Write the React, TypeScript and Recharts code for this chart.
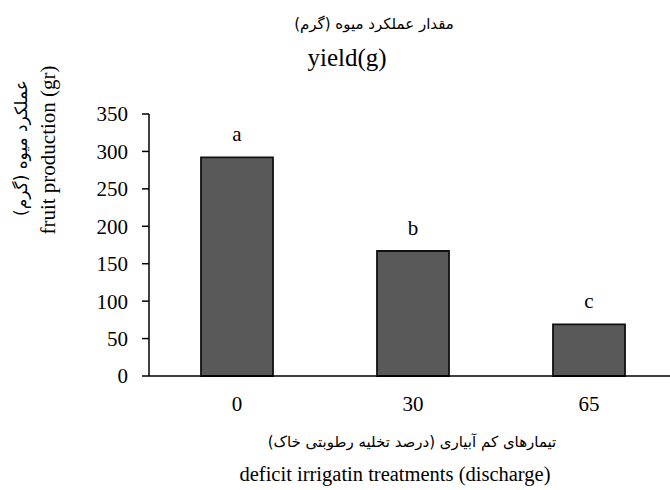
import { BarChart, Bar, XAxis, YAxis, LabelList } from 'recharts';

// treatments (percent soil moisture depletion)
const treatments = ['0', '30', '65'];
const yieldValues = [292, 167, 69];
const groupLetters = ['a', 'b', 'c'];
const yTicks = [0, 50, 100, 150, 200, 250, 300, 350];

const data = treatments.map((t, i) => ({
  treatment: t,
  value: yieldValues[i],
  letter: groupLetters[i],
}));

const LATIN = '"Liberation Serif", "Times New Roman", serif';
const PERSIAN = '"DejaVu Sans", "Noto Sans", sans-serif';

const YLabel = () => (
  <g>
    <text
      x={22}
      y={148}
      transform="rotate(-90 22 148)"
      textAnchor="middle"
      dominantBaseline="middle"
      fontFamily={PERSIAN}
      fontSize={17}
      fill="#000"
    >
      عملکرد میوه (گرم)
    </text>
    <text
      x={50}
      y={150}
      transform="rotate(-90 50 150)"
      textAnchor="middle"
      dominantBaseline="middle"
      fontFamily={LATIN}
      fontSize={21}
      fill="#000"
    >
      fruit production (gr)
    </text>
  </g>
);

const XLabel = () => (
  <g>
    <text x={412} y={447} textAnchor="middle" fontFamily={PERSIAN} fontSize={15} fill="#000">
      تیمارهای کم آبیاری (درصد تخلیه رطوبتی خاک)
    </text>
    <text x={395} y={481} textAnchor="middle" fontFamily={LATIN} fontSize={20.5} fill="#000">
      deficit irrigatin treatments (discharge)
    </text>
  </g>
);

export default function App() {
  return (
    <div style={{ position: 'absolute', left: 0, top: 0, width: 670, height: 490, overflow: 'hidden', background: '#fff' }}>
      <div style={{ position: 'absolute', top: 15, left: 374, transform: 'translateX(-50%)', whiteSpace: 'nowrap', fontFamily: PERSIAN, fontSize: 15, direction: 'rtl' }}>
        مقدار عملکرد میوه (گرم)
      </div>
      <div style={{ position: 'absolute', top: 44, left: 347, transform: 'translateX(-50%)', whiteSpace: 'nowrap', fontFamily: LATIN, fontSize: 25 }}>
        yield(g)
      </div>
      <div style={{ position: 'absolute', left: 0, top: 0 }}>
        <BarChart
          width={690}
          height={490}
          data={data}
          margin={{ top: 114, right: 13, bottom: 0, left: 0 }}
          barSize={72}
        >
          <XAxis
            dataKey="treatment"
            axisLine={{ stroke: '#000', strokeWidth: 1.5 }}
            tickLine={false}
            tickSize={0}
            tickMargin={20}
            height={114}
            tick={{ fill: '#000', fontFamily: LATIN, fontSize: 21 }}
            label={<XLabel />}
          />
          <YAxis
            domain={[0, 350]}
            ticks={yTicks}
            interval={0}
            width={149}
            axisLine={{ stroke: '#000', strokeWidth: 1.5 }}
            tickLine={{ stroke: '#000', strokeWidth: 1.5 }}
            tickSize={7}
            tickMargin={14}
            tick={{ fill: '#000', fontFamily: LATIN, fontSize: 21 }}
            label={<YLabel />}
          />
          <Bar dataKey="value" fill="#595959" stroke="#111" strokeWidth={1.8} isAnimationActive={false}>
            <LabelList dataKey="letter" position="top" offset={16} fill="#000" fontFamily={LATIN} fontSize={21} />
          </Bar>
        </BarChart>
      </div>
    </div>
  );
}
